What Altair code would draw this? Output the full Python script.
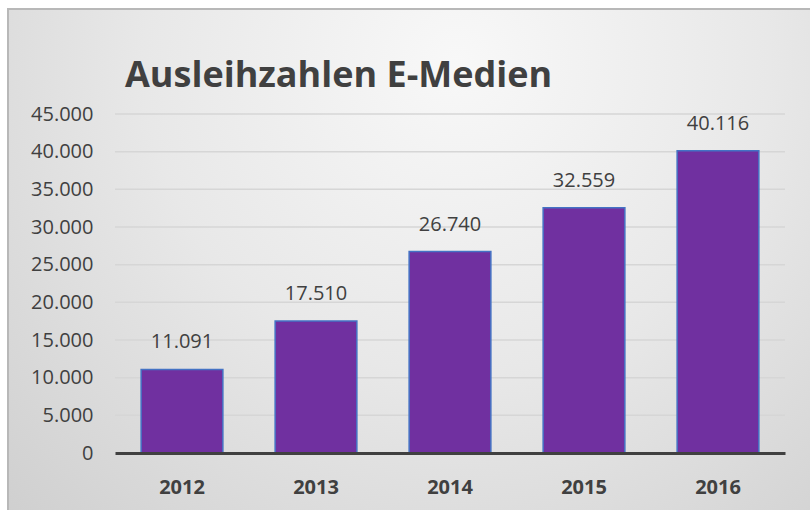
import altair as alt
import pandas as pd

years = ["2012", "2013", "2014", "2015", "2016"]
loans = [11091, 17510, 26740, 32559, 40116]
y_ticks = [0, 5000, 10000, 15000, 20000, 25000, 30000, 35000, 40000, 45000]

df = pd.DataFrame({"Jahr": years, "Ausleihen": loans})
grid_df = pd.DataFrame({"tick": y_ticks[1:]})

W, H = 670, 339
yscale = alt.Scale(domain=[0, 45000], nice=False)
xscale = alt.Scale(paddingInner=0.39, paddingOuter=0.195)

x_axis = alt.Axis(labelAngle=0, labelFont="Open Sans", labelFontWeight="bold",
                  labelFontSize=20, labelColor="#404040", labelPadding=24,
                  ticks=False, domainColor="#404040", domainWidth=3, zindex=1)
y_axis = alt.Axis(values=y_ticks, labelFont="Open Sans", labelFontSize=20,
                  labelColor="#404040", labelPadding=22, ticks=False, domain=False,
                  grid=False, zindex=1, labelOverlap=False,
                  labelExpr="replace(format(datum.value, ','), ',', '.')")

bg = alt.Chart(pd.DataFrame({"a": [0]})).mark_rect(
    fill=alt.Gradient(
        gradient="radial",
        x1=0.55, y1=0.25, r1=0.0,
        x2=0.55, y2=0.25, r2=0.85,
        stops=[
            alt.GradientStop(color="#f8f8f8", offset=0),
            alt.GradientStop(color="#e8e8e8", offset=0.45),
            alt.GradientStop(color="#cbcbcb", offset=1),
        ],
    ),
    stroke="#b8b8b8",
    strokeWidth=2,
).encode(
    x=alt.value(-107), x2=alt.value(W + 40),
    y=alt.value(-105), y2=alt.value(H + 70),
)

grid = alt.Chart(grid_df).mark_rule(color="#d6d6d6", strokeWidth=1.5).encode(
    y=alt.Y("tick:Q", title=None, scale=yscale, axis=y_axis),
)

base = alt.Chart(df)

bars = base.mark_bar(
    color="#7030A0", stroke="#4472C4", strokeWidth=1.5
).encode(
    x=alt.X("Jahr:N", sort=years, title=None, scale=xscale, axis=x_axis),
    y=alt.Y("Ausleihen:Q", title=None, scale=yscale, axis=y_axis),
)

labels = base.transform_calculate(
    lbl="replace(format(datum.Ausleihen, ','), ',', '.')"
).mark_text(
    font="Open Sans", fontSize=20, color="#404040", baseline="bottom", dy=-17
).encode(
    x=alt.X("Jahr:N", sort=years, title=None, scale=xscale, axis=x_axis),
    y=alt.Y("Ausleihen:Q", title=None, scale=yscale, axis=y_axis),
    text="lbl:N",
)

chart = alt.layer(bg, grid, bars, labels).properties(
    width=W, height=H,
    padding={"left": 115, "top": 114, "right": 25, "bottom": 57},
    autosize=alt.AutoSizeParams(type="none"),
    background="white",
    title=alt.TitleParams(
        "Ausleihzahlen E-Medien", anchor="start", frame="group", font="Open Sans",
        fontSize=36, fontWeight="bold", color="#404040", dx=10, offset=0, dy=115,
        baseline="alphabetic",
    ),
).configure_view(stroke=None)

chart.save("out.html", embed_options={"renderer": "svg", "actions": False})
